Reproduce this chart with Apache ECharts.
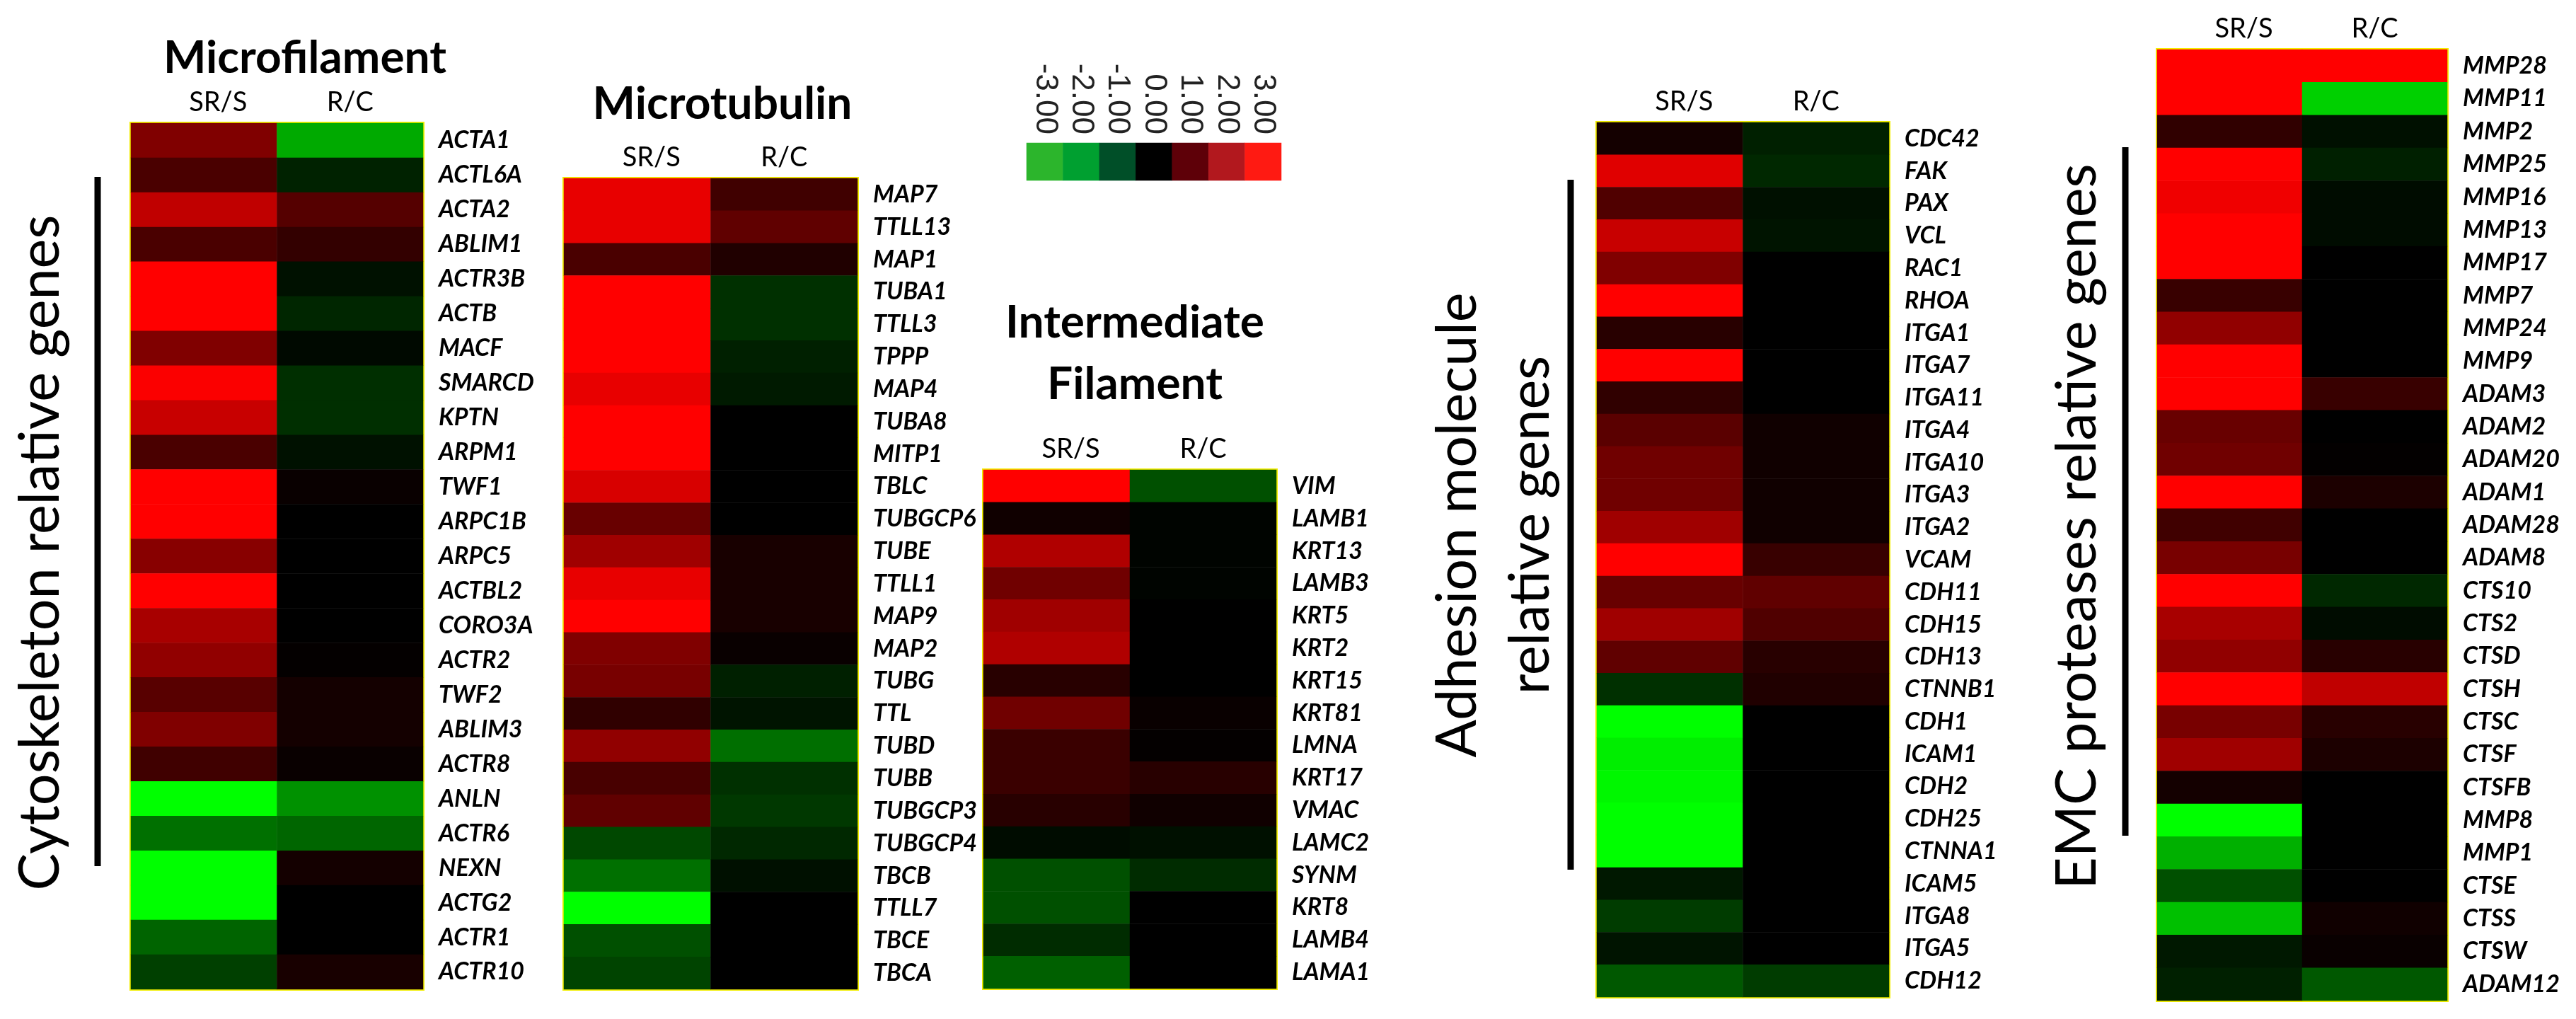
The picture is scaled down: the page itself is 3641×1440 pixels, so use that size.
<!DOCTYPE html>
<html><head><meta charset="utf-8">
<script src="https://cdn.jsdelivr.net/npm/echarts@6/dist/echarts.min.js"></script>
<style>html,body{margin:0;padding:0;background:#fff}#c{width:3641px;height:1440px}</style>
</head><body><div id="c"></div>
<script>
// ---------- DATA ----------
const columns = ['SR/S', 'R/C'];

const mfGenes = ['ACTA1','ACTL6A','ACTA2','ABLIM1','ACTR3B','ACTB','MACF','SMARCD','KPTN','ARPM1','TWF1','ARPC1B','ARPC5','ACTBL2','CORO3A','ACTR2','TWF2','ABLIM3','ACTR8','ANLN','ACTR6','NEXN','ACTG2','ACTR1','ACTR10'];
const mfSRS = [1.5,0.87,2.26,0.87,3,3,1.5,2.95,2.35,0.87,3,3,1.6,3,1.98,1.7,1.04,1.5,0.75,-3,-1.32,-3,-3,-1.18,-0.75];
const mfRC  = [-2.0,-0.4,1.0,0.6,-0.2,-0.45,-0.1,-0.55,-0.55,-0.2,0.1,0,0,0,0,0.05,0.24,0.24,0.1,-1.7,-1.2,0.24,0,0,0.28];

const mtGenes = ['MAP7','TTLL13','MAP1','TUBA1','TTLL3','TPPP','MAP4','TUBA8','MITP1','TBLC','TUBGCP6','TUBE','TTLL1','MAP9','MAP2','TUBG','TTL','TUBD','TUBB','TUBGCP3','TUBGCP4','TBCB','TTLL7','TBCE','TBCA'];
const mtSRS = [2.73,2.73,0.87,3,3,3,2.73,3,3,2.54,1.22,1.88,2.73,3,1.5,1.41,0.56,1.7,0.85,1.13,-0.85,-1.32,-3,-0.94,-0.8];
const mtRC  = [0.75,1.13,0.38,-0.56,-0.56,-0.38,-0.3,0,0,0,0,0.28,0.28,0.28,0.1,-0.38,-0.24,-1.3,-0.56,-0.66,-0.47,-0.19,0,0,0];

const ifGenes = ['VIM','LAMB1','KRT13','LAMB3','KRT5','KRT2','KRT15','KRT81','LMNA','KRT17','VMAC','LAMC2','SYNM','KRT8','LAMB4','LAMA1'];
const ifSRS = [3,0.19,2.07,1.32,1.88,2.07,0.47,1.32,0.68,0.68,0.47,-0.14,-0.94,-0.94,-0.52,-1.13];
const ifRC  = [-0.94,-0.05,-0.05,-0.05,0,0,0,0.1,0.05,0.47,0.19,-0.19,-0.52,0,0,0];

const adGenes = ['CDC42','FAK','PAX','VCL','RAC1','RHOA','ITGA1','ITGA7','ITGA11','ITGA4','ITGA10','ITGA3','ITGA2','VCAM','CDH11','CDH15','CDH13','CTNNB1','CDH1','ICAM1','CDH2','CDH25','CTNNA1','ICAM5','ITGA8','ITGA5','CDH12'];
const adSRS = [0.24,2.64,0.94,2.35,1.5,3,0.47,3,0.56,1.06,1.32,1.32,1.88,3,1.22,1.88,1.13,-0.56,-3,-2.8,-2.9,-3,-3,-0.28,-0.7,-0.24,-1.04];
const adRC  = [-0.38,-0.47,-0.19,-0.24,0,0,0,0,0,0.19,0.19,0.19,0.19,0.66,1.13,0.94,0.47,0.38,0,0,0,0,0,0,0,0,-0.7];

const emGenes = ['MMP28','MMP11','MMP2','MMP25','MMP16','MMP13','MMP17','MMP7','MMP24','MMP9','ADAM3','ADAM2','ADAM20','ADAM1','ADAM28','ADAM8','CTS10','CTS2','CTSD','CTSH','CTSC','CTSF','CTSFB','MMP8','MMP1','CTSE','CTSS','CTSW','ADAM12'];
const emSRS = [3,3,0.56,3,2.82,3,3,0.66,1.7,3,3,1.22,1.32,3,0.75,1.41,3,1.98,1.7,3,1.41,1.88,0.24,-3,-2.07,-0.94,-2.26,-0.28,-0.38];
const emRC  = [3,-2.45,-0.19,-0.38,-0.14,-0.14,0,0,0,0,0.66,0,0.03,0.33,0,0,-0.47,-0.14,0.47,2.26,0.47,0.33,0,0,0,0,0.19,0.1,-1.04];

const legendLabels = ['-3.00','-2.00','-1.00','0.00','1.00','2.00','3.00'];
const legendValues = [-3,-2,-1,0,1,2,3];
const legendColors = ['#2cb52c','#00a030','#004f28','#000000','#5e0008','#b2181e','#ff1a12'];

const panelTitles = ['Microfilament','Microtubulin','Intermediate\nFilament'];
const sideTitles = ['Cytoskeleton relative genes','Adhesion molecule\nrelative genes','EMC proteases relative genes'];

// ---------- LAYOUT ----------
const panels = [
  {genes: mfGenes, a: mfSRS, b: mfRC, left: 185,  top: 174, width: 413, height: 1224},
  {genes: mtGenes, a: mtSRS, b: mtRC, left: 797,  top: 252, width: 415, height: 1146},
  {genes: ifGenes, a: ifSRS, b: ifRC, left: 1390, top: 664, width: 414, height: 733},
  {genes: adGenes, a: adSRS, b: adRC, left: 2257, top: 173, width: 413, height: 1236},
  {genes: emGenes, a: emSRS, b: emRC, left: 3049, top: 70,  width: 410, height: 1344}
];

const grid = [], xAxis = [], yAxis = [], series = [];
panels.forEach((p, k) => {
  grid.push({left: p.left, top: p.top, width: p.width, height: p.height,
    show: true, borderColor: '#f2ee00', borderWidth: 4, backgroundColor: 'transparent'});
  xAxis.push({type: 'category', gridIndex: k, data: columns, position: 'top',
    axisLine: {show: false}, axisTick: {show: false}, splitLine: {show: false},
    axisLabel: {margin: 10, color: '#000', fontSize: 38, fontFamily: 'Lato',
      formatter: v => v === 'SR/S' ? '{s|' + v + '}' : v,
      rich: {s: {fontSize: 38, fontFamily: 'Lato', color: '#000', padding: [0, 0, 0, 40]}}}});
  yAxis.push({type: 'category', gridIndex: k, data: p.genes, inverse: true, position: 'right',
    axisLine: {show: false}, axisTick: {show: false}, splitLine: {show: false},
    axisLabel: {margin: 22, color: '#000', fontSize: 34, fontWeight: 'bold', fontStyle: 'italic', fontFamily: 'Lato'}});
  const data = [];
  p.genes.forEach((g, i) => { data.push([0, i, p.a[i]]); data.push([1, i, p.b[i]]); });
  series.push({type: 'heatmap', xAxisIndex: k, yAxisIndex: k, data: data,
    emphasis: {disabled: true}, silent: true, progressive: 0});
});

// colour key
const lk = panels.length;
grid.push({left: 1451, top: 202, width: 360, height: 53});
xAxis.push({type: 'category', gridIndex: lk, data: legendLabels, position: 'top',
  axisLine: {show: false}, axisTick: {show: false},
  axisLabel: {interval: 0, hideOverlap: false, rotate: 90, margin: 12, color: '#222', fontSize: 44, fontFamily: 'Liberation Sans'}});
yAxis.push({type: 'category', gridIndex: lk, data: [''], show: false});
series.push({type: 'heatmap', xAxisIndex: lk, yAxisIndex: lk, silent: true,
  emphasis: {disabled: true},
  data: legendValues.map((v, i) => ({value: [i, 0, v], itemStyle: {color: legendColors[i]}}))});

const txt = (text, x, y, font, rot, lh) => ({type: 'text', x: x, y: y, rotation: rot || 0, silent: true,
  style: {text: text, x: 0, y: 0, font: font, fill: '#000', textAlign: 'center', textVerticalAlign: 'middle',
    align: 'center', verticalAlign: 'middle', lineHeight: lh || undefined}});
const vline = (x, y1, y2) => ({type: 'line', silent: true, shape: {x1: x, y1: y1, x2: x, y2: y2},
  style: {stroke: '#000', lineWidth: 9}});

const graphic = [
  txt(panelTitles[0], 431, 82, 'bold 64px Lato'),
  txt(panelTitles[1], 1021, 147, 'bold 64px Lato'),
  txt(panelTitles[2], 1604, 500, 'bold 64px Lato', 0, 87),
  txt(sideTitles[0], 58, 781, '79px Lato', Math.PI / 2),
  txt(sideTitles[1], 2112, 742, '79px Lato', Math.PI / 2, 103),
  txt(sideTitles[2], 2937, 744, '79px Lato', Math.PI / 2),
  vline(138, 250, 1224),
  vline(2220, 254, 1229),
  vline(3004, 208, 1181)
];

const chart = echarts.init(document.getElementById('c'), null, {renderer: 'canvas'});
chart.setOption({
  backgroundColor: '#fff',
  animation: false,
  grid: grid, xAxis: xAxis, yAxis: yAxis, series: series,
  visualMap: {type: 'continuous', show: false, min: -3, max: 3, seriesIndex: [0, 1, 2, 3, 4],
    inRange: {color: ['#00ff00', '#000000', '#ff0000']}},
  graphic: graphic
});
</script></body></html>
